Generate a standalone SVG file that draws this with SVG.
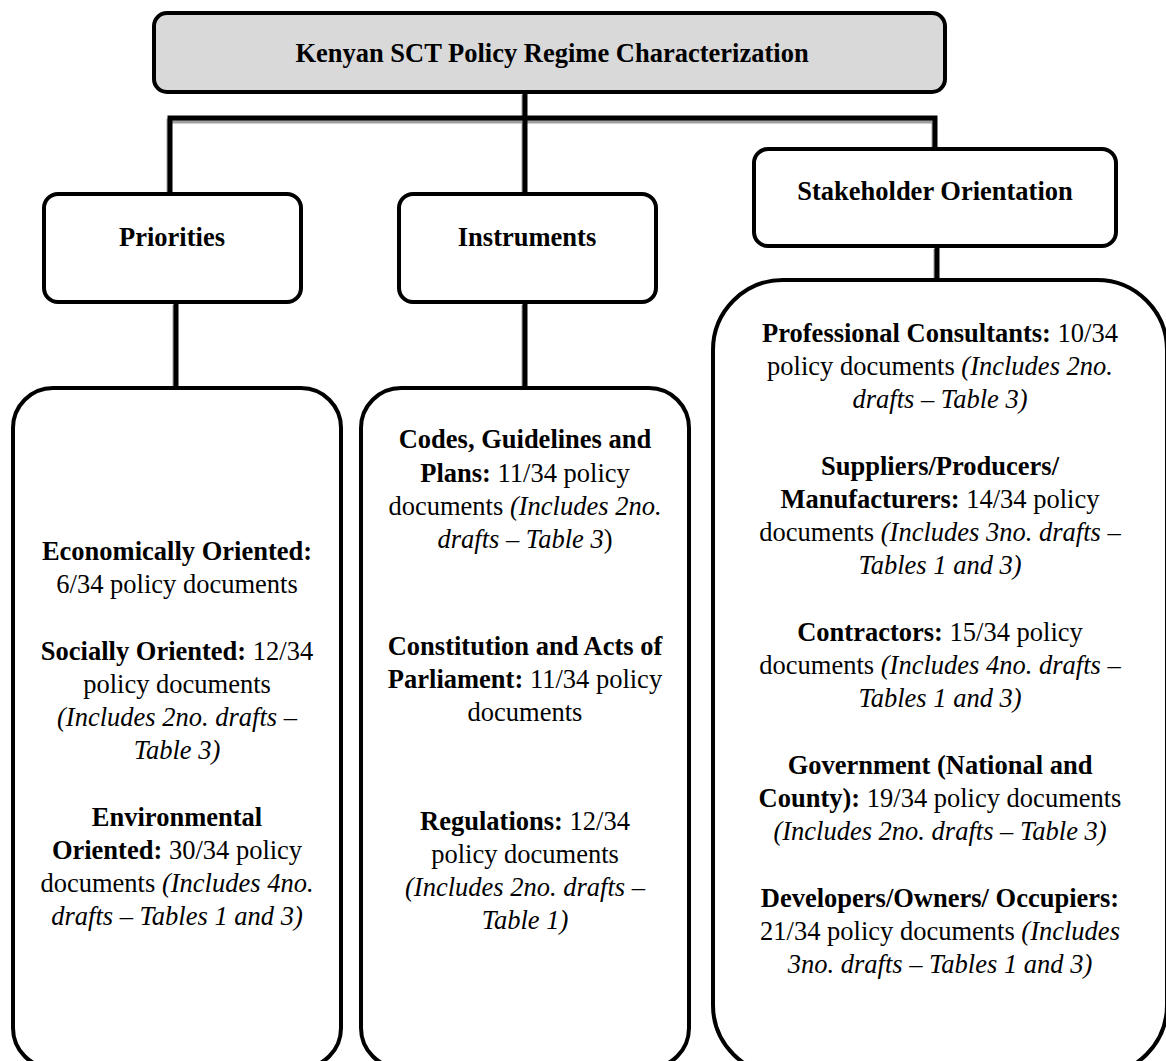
<svg xmlns="http://www.w3.org/2000/svg" width="1166" height="1061" viewBox="0 0 1166 1061">
<style>
text{font-family:"Liberation Serif","Times New Roman",serif;font-size:26.5px;fill:#000;text-anchor:middle}
.b{font-weight:bold}
.i{font-style:italic}
.box{fill:#fff;stroke:#000;stroke-width:4}
.top{fill:#d9d9d9;stroke:#000;stroke-width:4}
.ln{stroke:#000;stroke-width:5;fill:none}
.sh{stroke:#a0a0a0;stroke-width:5;fill:none}
</style>
<rect width="1166" height="1061" fill="#fff"/>
<g id="connectors">
<g transform="translate(-1,3)">
<path class="sh" d="M525,92V118M170,196V118H935V150M525,118V196M176,302V388M525,302V388M937,246V280"/>
</g>
<path class="ln" d="M525,92V118M170,196V118H935V150M525,118V196M176,302V388M525,302V388M937,246V280"/>
</g>
<g id="root">
<rect class="top" x="154" y="13" width="791" height="79" rx="13"/>
<text class="b" x="552" y="62">Kenyan SCT Policy Regime Characterization</text>
</g>
<g id="priorities">
<rect class="box" x="44" y="194" width="257" height="108" rx="14"/>
<text class="b" x="172" y="246">Priorities</text>
</g>
<g id="instruments">
<rect class="box" x="399" y="194" width="257" height="108" rx="14"/>
<text class="b" x="527" y="246">Instruments</text>
</g>
<g id="stakeholder">
<rect class="box" x="754" y="149" width="362" height="97" rx="14"/>
<text class="b" x="935" y="200">Stakeholder Orientation</text>
</g>
<g id="priorities-detail">
<rect class="box" x="13" y="388" width="328" height="680" rx="40"/>
<text x="177" y="560"><tspan class="b">Economically Oriented:</tspan></text>
<text x="177" y="593">6/34 policy documents</text>
<text x="177" y="660"><tspan class="b">Socially Oriented:</tspan> 12/34</text>
<text x="177" y="693">policy documents</text>
<text x="177" y="726" class="i">(Includes 2no. drafts –</text>
<text x="177" y="759" class="i">Table 3)</text>
<text x="177" y="826" class="b">Environmental</text>
<text x="177" y="859"><tspan class="b">Oriented:</tspan> 30/34 policy</text>
<text x="177" y="892">documents <tspan class="i">(Includes 4no.</tspan></text>
<text x="177" y="925" class="i">drafts – Tables 1 and 3)</text>
</g>
<g id="instruments-detail">
<rect class="box" x="361" y="388" width="328" height="680" rx="40"/>
<text x="525" y="448" class="b">Codes, Guidelines and</text>
<text x="525" y="482"><tspan class="b">Plans:</tspan> 11/34 policy</text>
<text x="525" y="515">documents <tspan class="i">(Includes 2no.</tspan></text>
<text x="525" y="548"><tspan class="i">drafts – Table 3</tspan>)</text>
<text x="525" y="655" class="b">Constitution and Acts of</text>
<text x="525" y="688"><tspan class="b">Parliament:</tspan> 11/34 policy</text>
<text x="525" y="721">documents</text>
<text x="525" y="830"><tspan class="b">Regulations:</tspan> 12/34</text>
<text x="525" y="863">policy documents</text>
<text x="525" y="896" class="i">(Includes 2no. drafts –</text>
<text x="525" y="929" class="i">Table 1)</text>
</g>
<g id="stakeholder-detail">
<rect class="box" x="713" y="280" width="454" height="795" rx="70"/>
<text x="940" y="342"><tspan class="b">Professional Consultants:</tspan> 10/34</text>
<text x="940" y="375">policy documents <tspan class="i">(Includes 2no.</tspan></text>
<text x="940" y="408" class="i">drafts – Table 3)</text>
<text x="940" y="475" class="b">Suppliers/Producers/</text>
<text x="940" y="508"><tspan class="b">Manufacturers:</tspan> 14/34 policy</text>
<text x="940" y="541">documents <tspan class="i">(Includes 3no. drafts –</tspan></text>
<text x="940" y="574" class="i">Tables 1 and 3)</text>
<text x="940" y="641"><tspan class="b">Contractors:</tspan> 15/34 policy</text>
<text x="940" y="674">documents <tspan class="i">(Includes 4no. drafts –</tspan></text>
<text x="940" y="707" class="i">Tables 1 and 3)</text>
<text x="940" y="774" class="b">Government (National and</text>
<text x="940" y="807"><tspan class="b">County):</tspan> 19/34 policy documents</text>
<text x="940" y="840" class="i">(Includes 2no. drafts – Table 3)</text>
<text x="940" y="907" class="b">Developers/Owners/ Occupiers:</text>
<text x="940" y="940">21/34 policy documents <tspan class="i">(Includes</tspan></text>
<text x="940" y="973" class="i">3no. drafts – Tables 1 and 3)</text>
</g>
</svg>
